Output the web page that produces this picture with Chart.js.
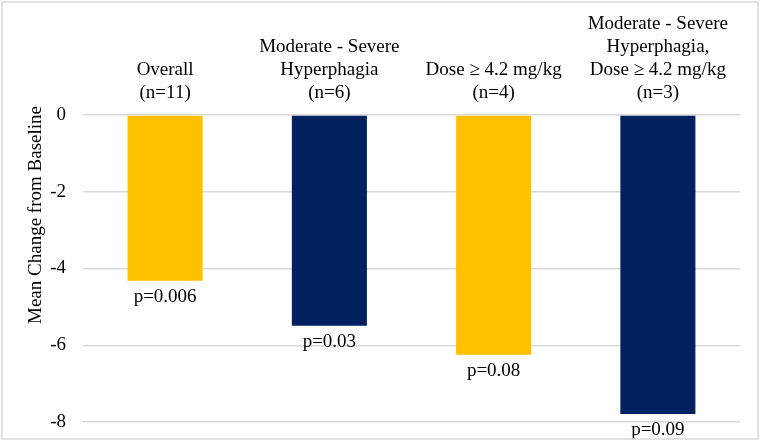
<!DOCTYPE html>
<html>
<head>
<meta charset="utf-8">
<script src="https://cdn.jsdelivr.net/npm/chart.js@4"></script>
<style>
  body { margin: 0; background: #fff; }
  canvas { display: block; }
</style>
</head>
<body>
<canvas id="myChart" width="760" height="443"></canvas>
<script>
const categories = [
    ['Overall', '(n=11)'],
    ['Moderate - Severe', 'Hyperphagia', '(n=6)'],
    ['Dose \u2265 4.2 mg/kg', '(n=4)'],
    ['Moderate - Severe', 'Hyperphagia,', 'Dose \u2265 4.2 mg/kg', '(n=3)']
];
const meanChange = [-4.32, -5.49, -6.25, -7.79];
const pValues = ['p=0.006', 'p=0.03', 'p=0.08', 'p=0.09'];
const yTicks = [0, -2, -4, -6, -8];
const yTitle = 'Mean Change from Baseline';

const barColors = ['#FFC000', '#002060', '#FFC000', '#002060'];
const fontFamily = '"Liberation Serif", "Times New Roman", serif';

// frame round the whole picture + y axis title (sits higher than the plot centre)
const framePlugin = {
    id: 'frame',
    afterDraw(chart) {
        const c = chart.ctx;
        c.save();
        c.strokeStyle = '#d9d9d9';
        c.lineWidth = 1.5;
        c.strokeRect(2, 2, 756, 437);

        c.translate(41, 215);
        c.rotate(-Math.PI / 2);
        c.font = '19px ' + fontFamily;
        c.fillStyle = '#000';
        c.textAlign = 'center';
        c.textBaseline = 'alphabetic';
        c.fillText(yTitle, 0, 0);
        c.restore();
    }
};

// p-value under each bar
const pLabelPlugin = {
    id: 'pLabels',
    afterDatasetsDraw(chart) {
        const c = chart.ctx;
        const bars = chart.getDatasetMeta(0).data;
        c.save();
        c.font = '19px ' + fontFamily;
        c.fillStyle = '#000';
        c.textAlign = 'center';
        c.textBaseline = 'top';
        bars.forEach((bar, i) => {
            c.fillText(pValues[i], bar.x, bar.y + 7);
        });
        c.restore();
    }
};

const ctx = document.getElementById('myChart');

new Chart(ctx, {
    type: 'bar',
    data: {
        labels: categories,
        datasets: [{
            label: yTitle,
            data: meanChange,
            backgroundColor: barColors,
            borderWidth: 0,
            categoryPercentage: 1,
            barPercentage: 0.457
        }]
    },
    options: {
        responsive: false,
        animation: false,
        layout: {
            padding: { left: 0, right: 20, top: 0, bottom: 21 }
        },
        plugins: {
            legend: { display: false },
            tooltip: { enabled: false }
        },
        scales: {
            x: {
                position: 'top',
                grid: { display: false, drawTicks: false },
                border: { display: false },
                ticks: {
                    autoSkip: false,
                    maxRotation: 0,
                    minRotation: 0,
                    padding: 11,
                    color: '#000',
                    font: { family: fontFamily, size: 19 }
                },
                afterFit(scale) { scale.height = 115; }
            },
            y: {
                min: -8,
                max: 0,
                afterBuildTicks(scale) {
                    scale.ticks = yTicks.map(v => ({ value: v }));
                },
                grid: { color: '#d9d9d9', lineWidth: 1.5, drawTicks: false },
                border: { display: false },
                ticks: {
                    padding: 17,
                    color: '#000',
                    font: { family: fontFamily, size: 19 }
                },
                afterFit(scale) {
                    scale.width = 83;
                    scale.paddingTop = 0;
                    scale.paddingBottom = 0;
                }
            }
        }
    },
    plugins: [pLabelPlugin, framePlugin]
});
</script>
</body>
</html>
